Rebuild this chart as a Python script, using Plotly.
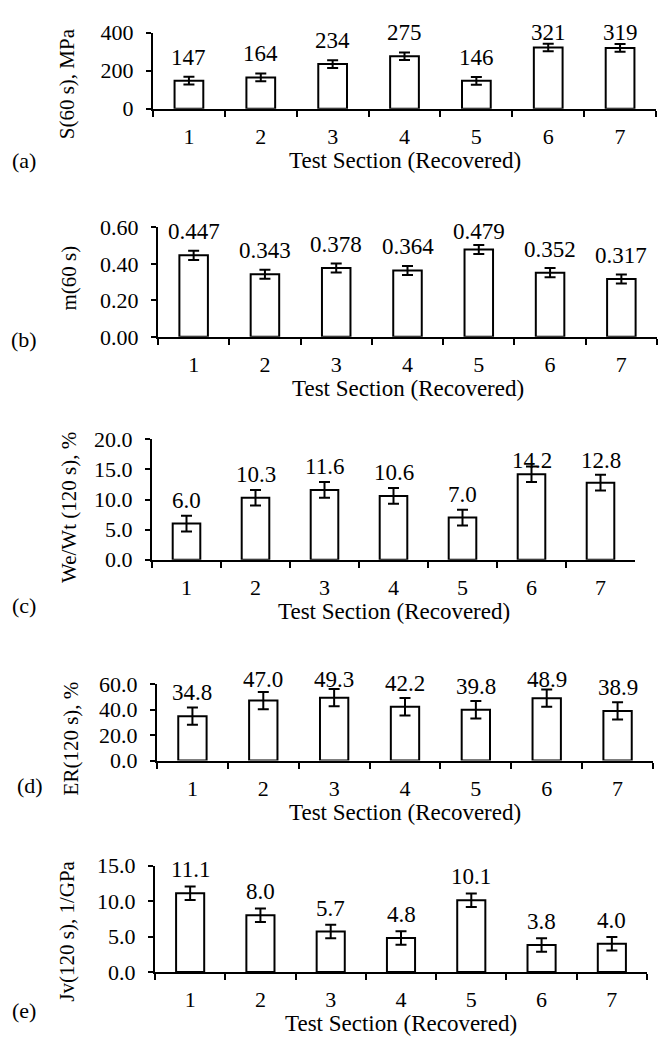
import plotly.graph_objects as go

W, H = 661, 1056
FONT = "Liberation Serif, Times New Roman, serif"

# ---------------- data ----------------
sections = ["1", "2", "3", "4", "5", "6", "7"]

s60 = [147, 164, 234, 275, 146, 321, 319]
s60_err = [20, 20, 20, 20, 20, 20, 20]

m60 = [0.447, 0.343, 0.378, 0.364, 0.479, 0.352, 0.317]
m60_err = [0.025, 0.025, 0.025, 0.025, 0.025, 0.025, 0.025]

wewt = [6.0, 10.3, 11.6, 10.6, 7.0, 14.2, 12.8]
wewt_err = [1.3, 1.3, 1.3, 1.3, 1.3, 1.3, 1.3]

er = [34.8, 47.0, 49.3, 42.2, 39.8, 48.9, 38.9]
er_err = [6.8, 6.8, 6.8, 6.8, 6.8, 6.8, 6.8]

jv = [11.1, 8.0, 5.7, 4.8, 10.1, 3.8, 4.0]
jv_err = [0.95, 0.95, 0.95, 0.95, 0.95, 0.95, 0.95]

y_titles = ["S(60 s), MPa", "m(60 s)", "We/Wt (120 s), %", "ER(120 s), %", "Jv(120 s), 1/GPa"]
panel_tags = ["(a)", "(b)", "(c)", "(d)", "(e)"]
x_title = "Test Section (Recovered)"
y_max = [400, 0.6, 20, 60, 15]
y_dtick = [200, 0.2, 5, 20, 5]
y_tickfmt = ["d", ".2f", ".1f", ".1f", ".1f"]
label_fmt = ["d", ".3f", ".1f", ".1f", ".1f"]

series = [s60, m60, wewt, er, jv]
errors = [s60_err, m60_err, wewt_err, er_err, jv_err]

# ---------------- layout geometry (pixels) ----------------
x_dom_px = [(153, 656), (158, 657), (152, 635), (157, 653), (155, 647)]
y_dom_px = [(21, 99), (220.7, 332.7), (437.7, 561), (688.3, 766.7), (874.3, 983.3)]  # (top, bottom)
ytitle_px = [(67, 74), (69, 273), (69, 508), (71, 744), (67, 942)]
tag_px = [(24, 152), (24, 335), (24, 608), (30, 792), (24, 1023)]
label_ceiling = [0.7, 4.3, 22.3, -4.3, -999]  # min label-centre offset from plot top (px)
LABEL_GAP = 23.5  # label centre above bar top (px)
XTITLE_GAP = 53

fig = go.Figure()
annotations = []
layout = {}

for i in range(5):
    n = "" if i == 0 else str(i + 1)
    xa, ya = "x" + n, "y" + n
    fig.add_trace(go.Bar(
        x=sections, y=series[i], xaxis=xa, yaxis=ya, width=0.4,
        marker=dict(color="white", line=dict(color="black", width=2)),
        error_y=dict(type="data", array=errors[i], color="black", thickness=2, width=5.5),
        showlegend=False, hoverinfo="skip",
    ))
    (x0, x1), (t, b) = x_dom_px[i], y_dom_px[i]
    layout["xaxis" + n] = dict(
        domain=[x0 / W, x1 / W], anchor=ya, type="category",
        showline=True, linecolor="black", linewidth=2,
        ticks="outside", tickson="boundaries", ticklen=6, tickwidth=2, tickcolor="black",
        showgrid=False, zeroline=False,
        tickfont=dict(family=FONT, size=22, color="black"),
        ticklabelstandoff=7,
    )
    layout["yaxis" + n] = dict(
        domain=[1 - b / H, 1 - t / H], anchor=xa, range=[0, y_max[i]],
        dtick=y_dtick[i], tick0=0, tickformat=y_tickfmt[i],
        showline=True, linecolor="black", linewidth=2,
        ticks="outside", ticklen=5, tickwidth=2, tickcolor="black",
        showgrid=False, zeroline=False,
        tickfont=dict(family=FONT, size=22, color="black"),
        ticklabelstandoff=8,
    )
    pxper = (b - t) / y_max[i]
    for j, v in enumerate(series[i]):
        top_px = b - v * pxper
        centre = max(top_px - LABEL_GAP, t + label_ceiling[i])
        annotations.append(dict(
            x=j, y=v, xref=xa, yref=ya, showarrow=False,
            text=format(v, label_fmt[i]), yanchor="middle", xanchor="center",
            yshift=top_px - centre,
            font=dict(family=FONT, size=23, color="black"),
        ))
    annotations.append(dict(
        x=(x0 + x1) / 2 / W, y=1 - (b + XTITLE_GAP) / H, xref="paper", yref="paper",
        text=x_title, showarrow=False, xanchor="center", yanchor="middle",
        font=dict(family=FONT, size=23, color="black"),
    ))
    tx, ty = ytitle_px[i]
    annotations.append(dict(
        x=tx / W, y=1 - ty / H, xref="paper", yref="paper", text=y_titles[i],
        textangle=-90, showarrow=False, xanchor="center", yanchor="middle",
        font=dict(family=FONT, size=21, color="black"),
    ))
    gx, gy = tag_px[i]
    annotations.append(dict(
        x=gx / W, y=1 - gy / H, xref="paper", yref="paper", text=panel_tags[i],
        showarrow=False, xanchor="center", yanchor="middle",
        font=dict(family=FONT, size=22, color="black"),
    ))

fig.update_layout(
    width=W, height=H, margin=dict(l=0, r=0, t=0, b=0),
    paper_bgcolor="white", plot_bgcolor="white",
    annotations=annotations, **layout,
)

fig.write_html("out.html")
